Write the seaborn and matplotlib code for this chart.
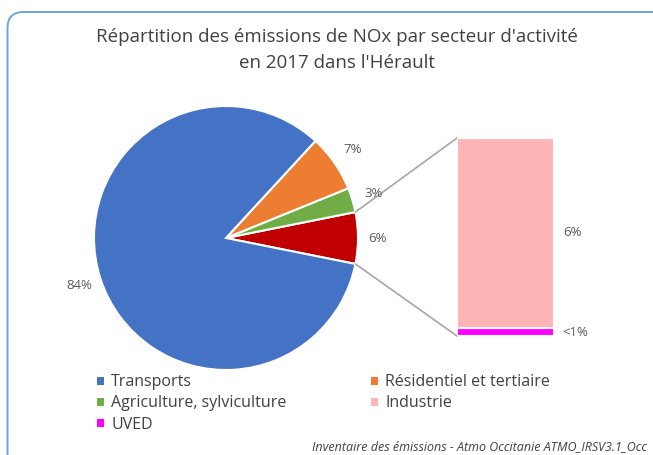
import matplotlib
matplotlib.use("Agg")
import matplotlib.pyplot as plt
import seaborn as sns
import numpy as np
from matplotlib.patches import FancyBboxPatch, Patch
from matplotlib.lines import Line2D

# ---- data ----
pie_labels = ["Autres", "Agriculture, sylviculture", "Résidentiel et tertiaire", "Transports"]
pie_values = [6.3, 3.0, 7.0, 83.7]
pie_texts = ["6%", "3%", "7%", "84%"]
pie_colors = ["#C00000", "#70AD47", "#ED7D31", "#4472C4"]

bar_labels = ["UVED", "Industrie"]
bar_values = [0.25, 6.05]
bar_texts = ["<1%", "6%"]
bar_colors = ["#FF00FF", "#FFB5B5"]

legend_labels = ["Transports", "Agriculture, sylviculture", "UVED",
                 "Résidentiel et tertiaire", "Industrie"]
legend_colors = ["#4472C4", "#70AD47", "#FF00FF", "#ED7D31", "#FFB5B5"]

title = "Répartition des émissions de NOx par secteur d'activité\nen 2017 dans l'Hérault"
source = "Inventaire des émissions - Atmo Occitanie ATMO_IRSV3.1_Occ"

sns.set_theme(style="white")
plt.rcParams["font.family"] = ["Open Sans", "DejaVu Sans"]

W, H = 653, 455
fig = plt.figure(figsize=(W / 100, H / 100), dpi=100)
ax = fig.add_axes([0, 0, 1, 1])

# pie
cx, cy, r = 226, H - 238, 132
start = -pie_values[0] / sum(pie_values) * 360 / 2
wedges, _ = ax.pie(pie_values, colors=pie_colors, startangle=start, counterclock=True,
                   center=(cx, cy), radius=r, frame=True,
                   wedgeprops=dict(edgecolor="white", linewidth=1.5))
ax.set_xlim(0, W)
ax.set_ylim(0, H)
ax.set_aspect("equal")
ax.axis("off")

# border
border = FancyBboxPatch((7.5, -20), 680, H - 12 + 20,
                        boxstyle="round,pad=0,rounding_size=16",
                        fc="white", ec="#6FA3DC", lw=1.4, zorder=0)
ax.add_patch(border)

tot = sum(pie_values)
ang = start
for v, t in zip(pie_values, pie_texts):
    mid = np.deg2rad(ang + v / tot * 360 / 2)
    rr = r * (1.17 if t != "6%" else 1.15)
    ax.text(cx + rr * np.cos(mid), cy + rr * np.sin(mid), t, ha="center", va="center",
            fontsize=9.5, color="#595959")
    ang += v / tot * 360

# bar (breakout)
bx0, bx1, by0, by1 = 457, 554, 138, 336
bax = fig.add_axes([bx0 / W, (H - by1) / H, (bx1 - bx0) / W, (by1 - by0) / H])
bottom = 0
for v, c in zip(bar_values, bar_colors):
    bax.bar(0, v, bottom=bottom, width=1, color=c, edgecolor="white", linewidth=1.5)
    bottom += v
bax.set_xlim(-0.5, 0.5)
bax.set_ylim(0, sum(bar_values))
bax.axis("off")

# bar labels
ax.text(573, H - 233, bar_texts[1], ha="center", va="center", fontsize=9.5, color="#595959")
ax.text(575, H - 333, bar_texts[0], ha="center", va="center", fontsize=9.5, color="#595959")

# connector lines
a1 = np.deg2rad(-start)
a0 = np.deg2rad(start)
ax.add_line(Line2D([cx + r * np.cos(a1), bx0], [cy + r * np.sin(a1), H - by0],
                   color="#A6A6A6", lw=1.2))
ax.add_line(Line2D([cx + r * np.cos(a0), bx0], [cy + r * np.sin(a0), H - by1],
                   color="#A6A6A6", lw=1.2))

# title
fig.text(337 / W, 1 - 50 / H, title, ha="center", va="center", fontsize=13.5,
         color="#404040", linespacing=1.5)

# legend
handles = [Patch(facecolor=c, edgecolor="none") for c in legend_colors]
fig.legend(handles, legend_labels, ncol=2, loc="upper left",
           bbox_to_anchor=(83 / W, 1 - 360 / H), frameon=False, fontsize=11.5,
           handlelength=0.42, handleheight=0.42, handletextpad=0.45,
           columnspacing=5.3, labelspacing=0.32, labelcolor="#404040")

# source
fig.text(647 / W, 1 - 447 / H, source, ha="right", va="center", fontsize=9,
         style="italic", color="#404040")

fig.savefig("out.png", dpi=100)
